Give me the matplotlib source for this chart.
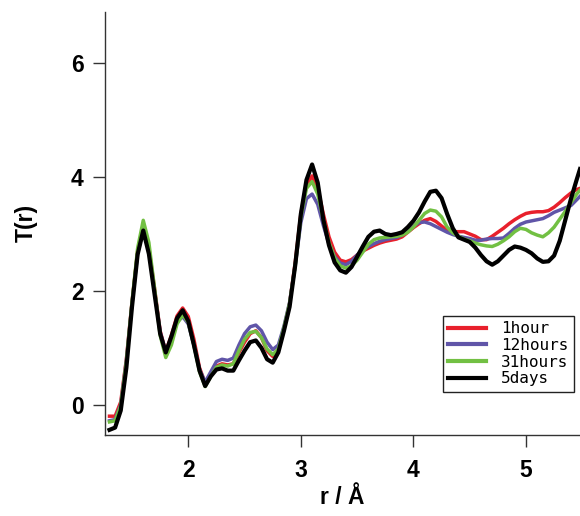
import numpy as np
import matplotlib
matplotlib.use("Agg")
import matplotlib.pyplot as plt

# r grid (Angstrom), shared by all four curves
r = [1.30, 1.35, 1.40, 1.45, 1.50, 1.55, 1.60, 1.65, 1.70, 1.75,
     1.80, 1.85, 1.90, 1.95, 2.00, 2.05, 2.10, 2.15, 2.20, 2.25,
     2.30, 2.35, 2.40, 2.45, 2.50, 2.55, 2.60, 2.65, 2.70, 2.75,
     2.80, 2.85, 2.90, 2.95, 3.00, 3.05, 3.10, 3.15, 3.20, 3.25,
     3.30, 3.35, 3.40, 3.45, 3.50, 3.55, 3.60, 3.65, 3.70, 3.75,
     3.80, 3.85, 3.90, 3.95, 4.00, 4.05, 4.10, 4.15, 4.20, 4.25,
     4.30, 4.35, 4.40, 4.45, 4.50, 4.55, 4.60, 4.65, 4.70, 4.75,
     4.80, 4.85, 4.90, 4.95, 5.00, 5.05, 5.10, 5.15, 5.20, 5.25,
     5.30, 5.35, 5.40, 5.45, 5.48]

t_1hour = [-0.20, -0.20, 0.05, 0.80, 1.80, 2.70, 3.12, 2.75, 2.05, 1.30,
           0.93, 1.22, 1.56, 1.70, 1.55, 1.15, 0.65, 0.38, 0.52, 0.68,
           0.72, 0.70, 0.72, 0.92, 1.10, 1.25, 1.30, 1.18, 0.95, 0.85,
           0.98, 1.35, 1.78, 2.50, 3.35, 3.85, 4.02, 3.80, 3.35, 2.95,
           2.68, 2.54, 2.51, 2.55, 2.63, 2.70, 2.75, 2.80, 2.84, 2.87,
           2.89, 2.91, 2.95, 3.03, 3.11, 3.18, 3.24, 3.27, 3.22, 3.14,
           3.06, 3.04, 3.04, 3.04, 3.00, 2.96, 2.90, 2.90, 2.96, 3.03,
           3.10, 3.18, 3.25, 3.31, 3.36, 3.38, 3.39, 3.39, 3.41, 3.47,
           3.55, 3.64, 3.72, 3.78, 3.80]

t_12hours = [-0.28, -0.26, 0.00, 0.78, 1.78, 2.66, 3.08, 2.72, 2.00, 1.28,
             0.92, 1.15, 1.45, 1.55, 1.42, 1.05, 0.62, 0.40, 0.58, 0.76,
             0.80, 0.78, 0.82, 1.05, 1.25, 1.37, 1.40, 1.30, 1.10, 0.97,
             1.05, 1.38, 1.80, 2.45, 3.20, 3.62, 3.70, 3.52, 3.15, 2.82,
             2.60, 2.49, 2.46, 2.52, 2.63, 2.72, 2.78, 2.83, 2.87, 2.90,
             2.92, 2.94, 2.98, 3.06, 3.14, 3.20, 3.21, 3.18, 3.13, 3.08,
             3.03, 2.99, 2.96, 2.94, 2.92, 2.89, 2.89, 2.91, 2.92, 2.92,
             2.93, 3.01, 3.10, 3.17, 3.21, 3.23, 3.25, 3.27, 3.32, 3.38,
             3.42, 3.46, 3.50, 3.60, 3.66]

t_31hours = [-0.30, -0.28, -0.02, 0.75, 1.80, 2.75, 3.24, 2.85, 2.05, 1.22,
             0.83, 1.05, 1.42, 1.58, 1.45, 1.05, 0.58, 0.32, 0.50, 0.66,
             0.70, 0.68, 0.72, 0.95, 1.15, 1.27, 1.29, 1.18, 0.98, 0.88,
             0.98, 1.35, 1.78, 2.45, 3.30, 3.80, 3.92, 3.70, 3.25, 2.85,
             2.58, 2.44, 2.40, 2.44, 2.54, 2.68, 2.82, 2.90, 2.93, 2.94,
             2.95, 2.96, 2.98, 3.03, 3.12, 3.24, 3.36, 3.42, 3.40, 3.30,
             3.12, 3.02, 2.96, 2.91, 2.88, 2.84, 2.81, 2.79, 2.78, 2.82,
             2.88, 2.95, 3.04, 3.10, 3.08, 3.02, 2.98, 2.95, 3.02, 3.12,
             3.26, 3.40, 3.55, 3.70, 3.77]

t_5days = [-0.44, -0.40, -0.10, 0.65, 1.72, 2.64, 3.06, 2.65, 1.95, 1.25,
           0.92, 1.20, 1.52, 1.66, 1.47, 1.05, 0.60, 0.33, 0.50, 0.62,
           0.64, 0.60, 0.60, 0.78, 0.95, 1.10, 1.13, 1.00, 0.80, 0.74,
           0.92, 1.30, 1.72, 2.45, 3.35, 3.95, 4.22, 3.90, 3.25, 2.80,
           2.50, 2.36, 2.32, 2.42, 2.60, 2.78, 2.95, 3.04, 3.06, 3.00,
           2.98, 3.00, 3.03, 3.12, 3.23, 3.38, 3.57, 3.74, 3.76, 3.63,
           3.35, 3.10, 2.94, 2.90, 2.86, 2.76, 2.63, 2.52, 2.46, 2.52,
           2.62, 2.72, 2.78, 2.76, 2.72, 2.66, 2.57, 2.51, 2.52, 2.62,
           2.88, 3.25, 3.62, 3.95, 4.14]

labels = ["1hour", "12hours", "31hours", "5days"]
colors = ["#e8202c", "#6055a8", "#72c043", "#000000"]

plt.rcParams["font.family"] = ["Liberation Sans", "DejaVu Sans"]

fig = plt.figure(figsize=(5.8, 5.16), dpi=100)
ax = fig.add_axes([0.181, 0.157, 0.819, 0.820])

series = [t_1hour, t_12hours, t_31hours, t_5days]
for vals, lab, col in zip(series, labels, colors):
    lw = 3.0 if col == "#000000" else 2.5
    ax.plot(r, vals, color=col, lw=lw, label=lab, solid_joinstyle="round")

ax.set_xlim(1.26, 5.48)
ax.set_ylim(-0.53, 6.9)
ax.set_xticks([2, 3, 4, 5])
ax.set_yticks([0, 2, 4, 6])

for side in ["top", "right"]:
    ax.spines[side].set_visible(False)
for side in ["left", "bottom"]:
    ax.spines[side].set_linewidth(1.0)
    ax.spines[side].set_color("#333333")

ax.tick_params(axis="both", direction="out", length=8.8, width=1.0,
               color="#333333", labelsize=16.5)
ax.tick_params(axis="y", pad=6.5)
ax.tick_params(axis="x", pad=8.5)
for lbl in ax.get_xticklabels() + ax.get_yticklabels():
    lbl.set_fontweight("bold")

ax.set_xlabel("r / Å", fontsize=16.5, fontweight="bold", labelpad=3)
ax.set_ylabel("T(r)", fontsize=16.5, fontweight="bold", labelpad=24)

leg = ax.legend(loc="lower right", bbox_to_anchor=(0.987, 0.102),
                prop={"family": "DejaVu Sans Mono", "size": 11.5},
                fancybox=False, framealpha=1, edgecolor="#222222",
                handlelength=2.4, handletextpad=0.9, labelspacing=0.1,
                borderpad=0.35, borderaxespad=0)
leg.get_frame().set_linewidth(1.0)
for line in leg.get_lines():
    line.set_linewidth(3.0)

fig.savefig("out.png", dpi=100)
